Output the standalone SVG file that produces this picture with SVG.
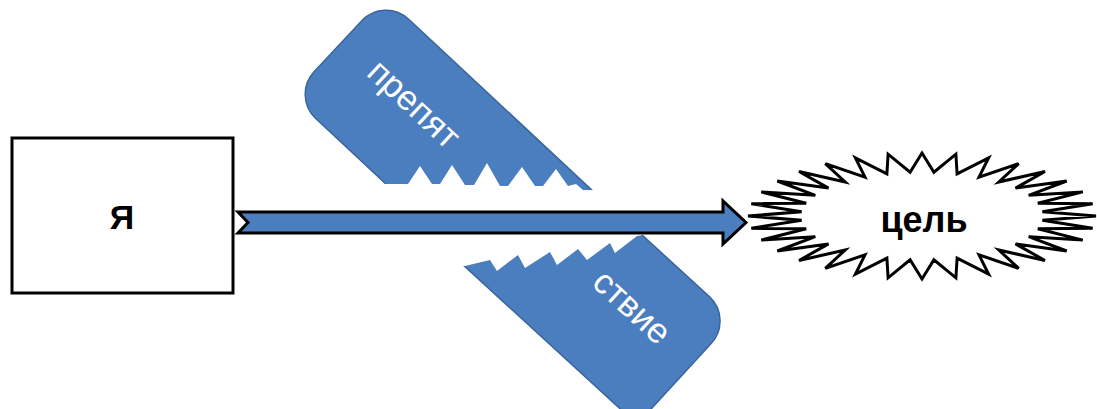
<svg xmlns="http://www.w3.org/2000/svg" width="1097" height="409" viewBox="0 0 1097 409">
<style>
.lbl{font-family:"Liberation Sans",Arial,sans-serif;font-weight:bold;fill:#000;text-anchor:middle}
.obs{fill:#4A7EBE;stroke:#3A659A;stroke-width:1.5}
.wtxt{font-family:"Liberation Sans",Arial,sans-serif;fill:#fff;text-anchor:middle;font-size:35px}
</style>
<defs>
<clipPath id="clipTop" clipPathUnits="userSpaceOnUse">
<path d="M0,0 L1097,0 L1097,190 L600,190 L583,190 L576,184 L568,186 L556,169 L543,186 L535,186 L522,167 L508,186 L500,186 L487,163 L474,185 L465,185 L452,165 L440,184 L432,184 L420,166 L408,184 L383,184 L375,192 L0,192 Z"/>
</clipPath>
<clipPath id="clipBot" clipPathUnits="userSpaceOnUse">
<path d="M0,409 L1097,409 L1097,230 L650,234 L637,236 L615,253 L610,243 L587,260 L578,249 L557,265 L550,252 L525,268 L518,255 L497,271 L490,260 L465,266 L0,266 Z"/>
</clipPath>
</defs>
<rect width="1097" height="409" fill="#fff"/>

<g id="obstacle">
<g clip-path="url(#clipTop)">
<g transform="translate(365,71.5) rotate(43)">
<rect class="obs" x="-37" y="-68" width="340" height="136" rx="33"/>
<text class="wtxt" x="58" y="2">препят</text>
</g>
</g>
<g clip-path="url(#clipBot)">
<g transform="translate(664.7,352.7) rotate(42.5)">
<path class="obs" d="M-400,-71.5 L-5,-71.5 A33,33 0 0 1 28,-38.5 L28,71.5 L-400,71.5 Z"/>
<text class="wtxt" x="-55" y="0">ствие</text>
</g>
</g>
</g>

<g id="node-me">
<rect x="12" y="138" width="221" height="155" fill="#fff" stroke="#000" stroke-width="3"/>
<text class="lbl" x="122" y="229" font-size="34">Я</text>
</g>

<g id="node-goal">
<path d="M1096,216 L1042.4,220.3 L1092.7,228.3 L1037.8,228.8 L1082.8,240.1 L1028.7,236.7 L1066.7,251 L1015.5,243.9 L1045,260.5 L998.8,250 L1018.7,268.4 L979,254.8 L988.6,274.2 L957.1,258.1 L955.9,277.8 L933.9,259.8 L922,279 L910.1,259.8 L888.1,277.8 L886.9,258.1 L855.4,274.2 L865,254.8 L825.3,268.4 L845.2,250 L799,260.5 L828.5,243.9 L777.3,251 L815.3,236.7 L761.2,240.1 L806.2,228.8 L751.3,228.3 L801.6,220.3 L748,216 L801.6,211.7 L751.3,203.7 L806.2,203.2 L761.2,191.9 L815.3,195.3 L777.3,181 L828.5,188.1 L799,171.5 L845.2,182 L825.3,163.6 L865,177.2 L855.4,157.8 L886.9,173.9 L888.1,154.2 L910.1,172.2 L922,153 L933.9,172.2 L955.9,154.2 L957.1,173.9 L988.6,157.8 L979,177.2 L1018.7,163.6 L998.8,182 L1045,171.5 L1015.5,188.1 L1066.7,181 L1028.7,195.3 L1082.8,191.9 L1037.8,203.2 L1092.7,203.7 L1042.4,211.7 Z" fill="#fff" stroke="#000" stroke-width="3" stroke-linejoin="miter"/>
<text class="lbl" x="924" y="232" font-size="36">цель</text>
</g>

<g id="connectors">
<path d="M238,212 L723,212 L723,201 L746,222.5 L723,244 L723,233 L238,233 L248,222.5 Z" fill="#4A7EBE" stroke="#000" stroke-width="3" stroke-linejoin="miter"/>
</g>
</svg>
